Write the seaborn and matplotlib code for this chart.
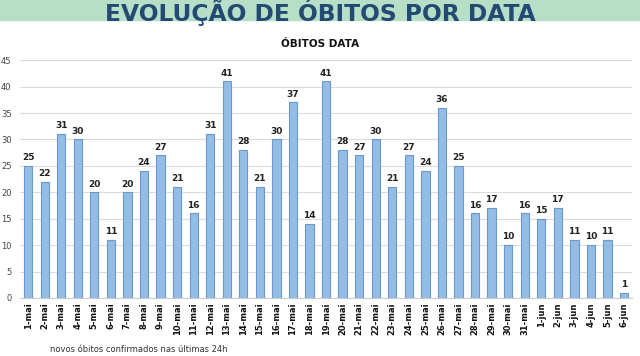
## Importing necessary libraries:
import matplotlib
matplotlib.use("Agg")
import matplotlib.pyplot as plt
import seaborn as sns
import pandas as pd

## Data:
dias = [f"{d}-mai" for d in range(1, 32)] + [f"{d}-jun" for d in range(1, 7)]
obitos = [25, 22, 31, 30, 20, 11, 20, 24, 27, 21, 16, 31, 41, 28, 21, 30, 37, 14, 41,
          28, 27, 30, 21, 27, 24, 36, 25, 16, 17, 10, 16, 15, 17, 11, 10, 11, 1]
y_ticks = [0, 5, 10, 15, 20, 25, 30, 35, 40, 45]

df = pd.DataFrame({"dia": dias, "obitos": obitos})

sns.set_style("white")
plt.rcParams["font.family"] = ["DejaVu Sans"]

fig = plt.figure(figsize=(6.4, 3.56), dpi=100)
ax = fig.add_axes([0.031, 0.163, 0.957, 0.668])

## Bar plot:
sns.barplot(data=df, x="dia", y="obitos", color="#94bde6", edgecolor="#6a98d0",
            linewidth=0.8, width=0.5, saturation=1, ax=ax)

for i, v in enumerate(obitos):
    ax.text(i, v + 0.7, str(v), ha="center", va="bottom", fontsize=6.5,
            fontweight="bold", color="#222222")

ax.set_ylim(0, 45)
ax.set_xlim(-0.5, len(dias) - 0.5)
ax.set_yticks(y_ticks)
ax.tick_params(axis="y", labelsize=6, colors="#444444", length=0, pad=6)
ax.tick_params(axis="x", labelsize=6, colors="#111111", length=0, pad=3)
plt.setp(ax.get_xticklabels(), rotation=90, fontweight="bold")
ax.set_xlabel("")
ax.set_ylabel("")
ax.yaxis.grid(True, color="#dddddd", linewidth=0.8)
ax.set_axisbelow(True)
for s in ["top", "right", "left"]:
    ax.spines[s].set_visible(False)
ax.spines["bottom"].set_color("#cccccc")

## Banner and titles:
fig.patches.append(plt.Rectangle((0, 0.944), 1, 0.056, transform=fig.transFigure,
                                 color="#b7dfc8", zorder=0))
fig.text(0.5, 0.941, "EVOLUÇÃO DE ÓBITOS POR DATA", ha="center", va="baseline",
         fontsize=16.8, fontweight="bold", color="#234a72")
fig.text(0.5, 0.877, "ÓBITOS DATA", ha="center", va="center",
         fontsize=7.5, fontweight="bold", color="#111111")
fig.text(0.078, 0.017, "novos óbitos confirmados nas últimas 24h", ha="left",
         va="center", fontsize=6, color="#333333")

fig.savefig("out.png", dpi=100)
